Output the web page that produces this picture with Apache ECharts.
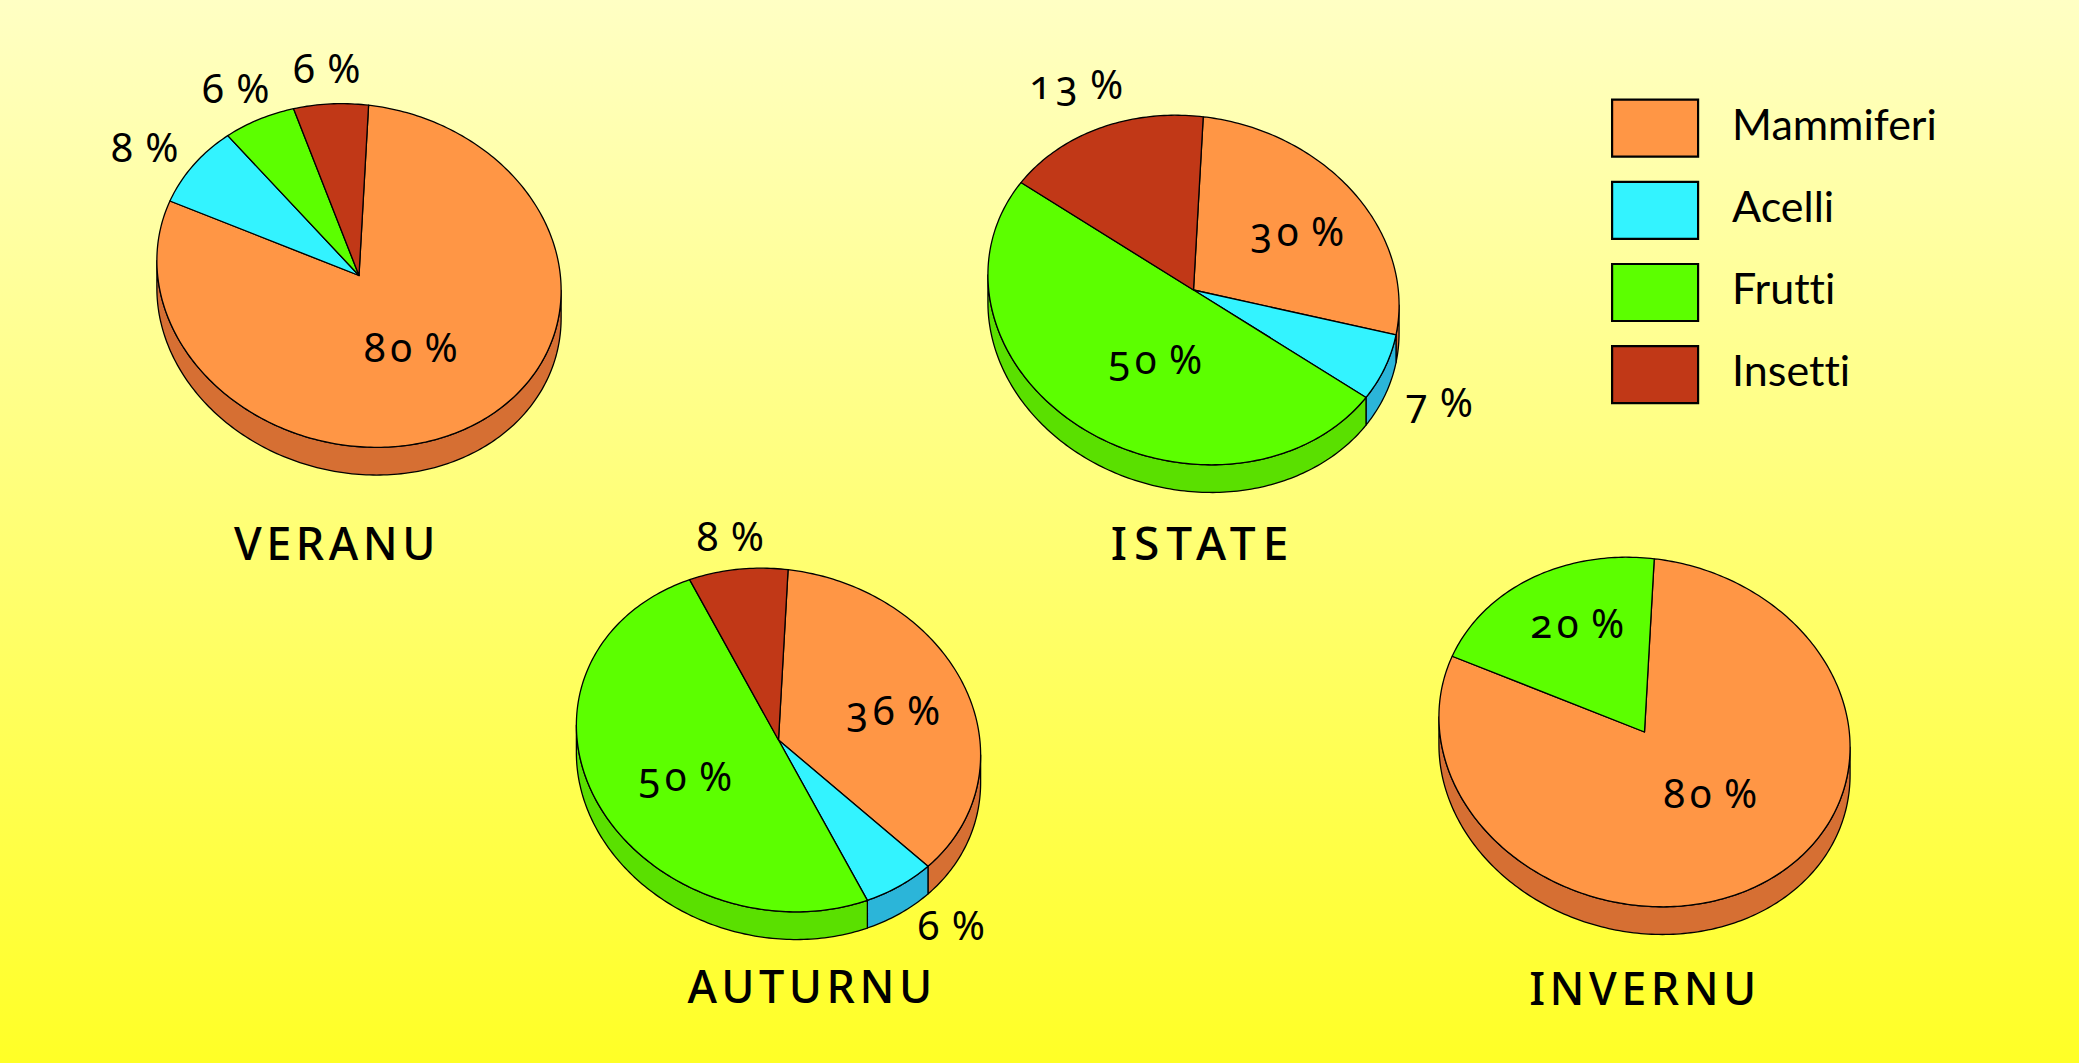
<!DOCTYPE html>
<html>
<head>
<meta charset="utf-8">
<style>
html,body{margin:0;padding:0;width:100%;height:100%;overflow:hidden;background:#ffff90}
#c{width:2079px;height:1063px}
text{font-variant-numeric:oldstyle-nums !important;font-variant-ligatures:none !important;font-feature-settings:"onum" 1,"liga" 0 !important}
text[style*="40px"]{letter-spacing:4.5px;word-spacing:-7px}
text[style*="45px"]{letter-spacing:4.5px}
text[style*="46px"]{letter-spacing:7px}
</style>
<script src="https://cdn.jsdelivr.net/npm/echarts@6/dist/echarts.min.js"></script>
</head>
<body>
<div id="c"></div>
<script>
// ---- data ----
const categories = ['Mammiferi', 'Acelli', 'Frutti', 'Insetti'];
const seasons = ['VERANU', 'ISTATE', 'AUTURNU', 'INVERNU'];
// share of each drawn slice, in the order of categories
const veranuShares = [80, 8, 6, 6];
const istateShares = [27, 6.4, 50, 16.6];
const auturnuShares = [36, 6, 50, 8];
const invernuShares = [80, 0, 20, 0];
// percentages printed next to the slices
const veranuPrinted = [80, 8, 6, 6];
const istatePrinted = [30, 7, 50, 13];
const auturnuPrinted = [36, 6, 50, 8];
const invernuPrinted = [80, null, 20, null];

// ---- styles and layout ----
const topColors = ['#FF9645', '#33F3FF', '#5CFF00', '#C13817'];
const sideColors = ['#D66F33', '#2BB5D9', '#5AE000', '#9A2C12'];
const FONT = '"Noto Sans"';
const LEGEND_FONT = 'Lato';
const pieLayout = [
  {cx: 359, cy: 275.5, k: 0.995, title: [332, 537], titleSize: 45},
  {cx: 1193.5, cy: 290, k: 1.012, title: [1198, 537], titleSize: 46},
  {cx: 778.5, cy: 740, k: 0.995, title: [807, 980], titleSize: 45},
  {cx: 1644.5, cy: 732, k: 1.012, title: [1640, 982], titleSize: 45}
];
const A = 205, B = 170.5, TILT = 14 * Math.PI / 180, DEPTH = 27.7, START = 261;
// label centres, relative to the pie hub
const labelOffsets = [
  [[54, 71], [-212, -129], [-121, -188], [-30, -208]],
  [[106, -60], [248, 111], [-36, 68], [-115, -207]],
  [[117, -31], [175, 184], [-91, 35], [-46, -205]],
  [[68, 60], null, [-65, -110], null]
];

const sharesBySeason = [veranuShares, istateShares, auturnuShares, invernuShares];
const printedBySeason = [veranuPrinted, istatePrinted, auturnuPrinted, invernuPrinted];

function pt(p, deg, dy) {
  const t = deg * Math.PI / 180;
  const x = A * p.k * Math.cos(t), y = B * p.k * Math.sin(t);
  return [p.cx + x * Math.cos(TILT) - y * Math.sin(TILT),
          p.cy + x * Math.sin(TILT) + y * Math.cos(TILT) + dy];
}
function arc(p, from, to, dy) {
  const out = [], n = Math.max(2, Math.ceil(Math.abs(to - from)));
  for (let i = 0; i <= n; i++) out.push(pt(p, from + (to - from) * i / n, dy));
  return out;
}
const tangent = Math.atan(-(B / A) * Math.tan(TILT)) * 180 / Math.PI;

function renderSlice(params, api) {
  const season = api.value(0), from = api.value(1), share = api.value(2), cat = params.seriesIndex;
  const p = pieLayout[season], children = [];
  if (share > 0) {
    const t0 = START + from * 3.6, t1 = t0 + share * 3.6;
    for (let k = 0; k <= 2; k++) {
      const lo = Math.max(t0, tangent + 360 * k), hi = Math.min(t1, tangent + 180 + 360 * k);
      if (hi > lo) {
        children.push({type: 'polygon', shape: {points: arc(p, lo, hi, 0).concat(arc(p, hi, lo, DEPTH))},
          style: {fill: sideColors[cat], stroke: '#000', lineWidth: 1.3, lineJoin: 'round'}});
      }
    }
    children.push({type: 'polygon', shape: {points: [[p.cx, p.cy]].concat(arc(p, t0, t1, 0))},
      style: {fill: topColors[cat], stroke: '#000', lineWidth: 1.3, lineJoin: 'round'}});
  }
  const printed = printedBySeason[season][cat], off = labelOffsets[season][cat];
  if (printed != null && off) {
    children.push({type: 'text', z2: 50, style: {x: p.cx + off[0], y: p.cy + off[1], text: printed + ' %',
      fill: '#000', font: '400 40px ' + FONT, align: 'center', verticalAlign: 'middle'}});
  }
  return {type: 'group', children};
}

const series = categories.map((name, cat) => ({
  name, type: 'custom', coordinateSystem: 'none', silent: true, animation: false,
  itemStyle: {color: topColors[cat]},
  renderItem: renderSlice, clip: false,
  data: sharesBySeason.map((shares, s) => [s, shares.slice(0, cat).reduce((a, b) => a + b, 0), shares[cat]])
}));

const chart = echarts.init(document.getElementById('c'), null, {renderer: 'svg', width: 2079, height: 1063});
chart.setOption({
  animation: false,
  backgroundColor: {type: 'linear', x: 0, y: 0, x2: 0, y2: 1,
    colorStops: [{offset: 0, color: '#FFFFC4'}, {offset: 1, color: '#FFFF26'}]},
  legend: {
    show: true, orient: 'vertical', left: 1611, top: 98.5, padding: 0, itemWidth: 86, itemHeight: 57, itemGap: 23,
    icon: 'rect', selectedMode: false, data: categories,
    itemStyle: {borderColor: '#000', borderWidth: 2.2},
    formatter: name => '{t|' + name + '}',
    textStyle: {color: '#000', fontFamily: LEGEND_FONT, fontSize: 43,
      rich: {t: {color: '#000', fontFamily: LEGEND_FONT, fontSize: 43, padding: [0, 0, 10, 29]}}}
  },
  title: seasons.map((s, i) => ({
    text: s, left: pieLayout[i].title[0], top: pieLayout[i].title[1], textAlign: 'center', textVerticalAlign: 'middle',
    textStyle: {color: '#000', fontFamily: FONT, fontSize: pieLayout[i].titleSize, fontWeight: 500}
  })),
  series
});
</script>
</body>
</html>
